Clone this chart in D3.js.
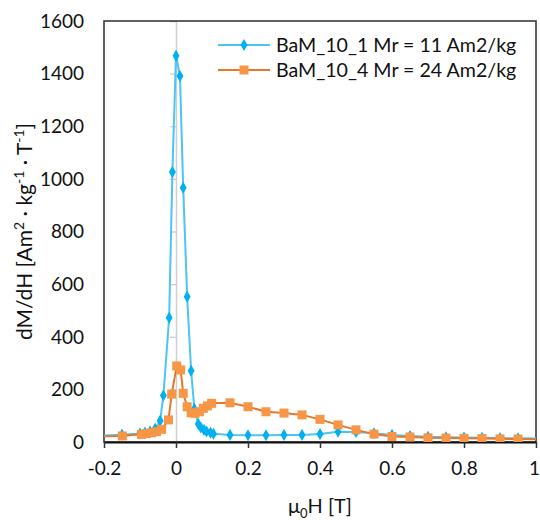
<!DOCTYPE html>
<html>
<head>
<meta charset="utf-8">
<script src="https://cdn.jsdelivr.net/npm/d3@7"></script>
<style>
  body { margin: 0; background: white; }
  svg { display: block; }
</style>
</head>
<body>
<svg id="svg"></svg>
<script>
"use strict";
var width = 540;
var height = 520;

// series 1: BaM_10_1
var xBlue = [-0.25, -0.15, -0.1, -0.086, -0.072, -0.058, -0.044, -0.035, -0.019, -0.01, 0, 0.011, 0.02, 0.031, 0.042, 0.051, 0.062, 0.069, 0.078, 0.085, 0.096, 0.104, 0.15, 0.2, 0.25, 0.3, 0.35, 0.4, 0.45, 0.5, 0.55, 0.6, 0.65, 0.7, 0.75, 0.8, 0.85, 0.9, 0.95, 1.05];
var yBlue = [22, 28, 32, 36, 40, 50, 81, 177, 472, 1026, 1468, 1391, 966, 552, 271, 126, 68, 55, 46, 40, 35, 31, 27, 26, 26, 27, 27, 30, 39, 38, 33, 27, 23, 20, 18, 17, 16, 15, 14, 12];
// series 2: BaM_10_4
var xOrange = [-0.25, -0.149, -0.096, -0.082, -0.068, -0.054, -0.04, -0.021, -0.012, 0.002, 0.013, 0.02, 0.031, 0.042, 0.053, 0.065, 0.076, 0.087, 0.099, 0.15, 0.2, 0.25, 0.3, 0.35, 0.4, 0.45, 0.5, 0.55, 0.6, 0.65, 0.7, 0.75, 0.8, 0.85, 0.9, 0.95, 1.05];
var yOrange = [20, 23, 29, 32, 35, 39, 48, 84, 182, 289, 274, 185, 134, 111, 109, 115, 128, 137, 147, 149, 134, 115, 110, 103, 86, 65, 46, 30, 21, 19, 16, 15, 14, 13, 12, 11, 10];

var seriesNames = ['BaM_10_1 Mr = 11 Am2/kg', 'BaM_10_4 Mr = 24 Am2/kg'];
var xTicks = [-0.2, 0, 0.2, 0.4, 0.6, 0.8, 1];
var yTicks = [0, 200, 400, 600, 800, 1000, 1200, 1400, 1600];

var margin = { left: 104, right: 4, top: 21, bottom: 78 };
var plotW = width - margin.left - margin.right;
var plotH = height - margin.top - margin.bottom;
var font = "Lato, 'Open Sans', sans-serif";

var x = d3.scaleLinear().domain([-0.2, 1]).range([margin.left, margin.left + plotW]);
var y = d3.scaleLinear().domain([0, 1600]).range([margin.top + plotH, margin.top]);

var svg = d3.select('#svg')
    .attr('width', width)
    .attr('height', height)
    .style('font-family', font);

svg.append('rect').attr('width', width).attr('height', height).attr('fill', 'white');

svg.append('clipPath').attr('id', 'plot')
    .append('rect')
    .attr('x', margin.left).attr('y', margin.top)
    .attr('width', plotW).attr('height', plotH);

// y axis sits at x = 0
var yAxis = svg.append('g')
    .attr('transform', 'translate(' + x(0) + ',0)')
    .call(d3.axisLeft(y).tickValues(yTicks).tickSize(6).tickFormat(''));
yAxis.select('.domain').attr('stroke', '#d0d0d0').attr('stroke-width', 1.5);
yAxis.selectAll('.tick line').attr('stroke', '#c8c8c8').attr('stroke-width', 1.2);

// y tick labels at the left edge
svg.selectAll('text.ylab')
    .data(yTicks)
    .enter()
    .append('text')
    .attr('class', 'ylab')
    .attr('x', 84)
    .attr('y', function (d) { return y(d); })
    .attr('dy', '0.36em')
    .attr('text-anchor', 'end')
    .style('font-size', '19px')
    .attr('fill', '#111')
    .text(function (d) { return d; });

// frame
svg.append('rect')
    .attr('x', margin.left).attr('y', margin.top)
    .attr('width', plotW).attr('height', plotH)
    .attr('fill', 'none')
    .attr('stroke', '#3a3a3a')
    .attr('stroke-width', 1.6);

// x axis
var xAxis = svg.append('g')
    .attr('transform', 'translate(0,' + (margin.top + plotH) + ')')
    .call(d3.axisBottom(x).tickValues(xTicks).tickSize(6).tickSizeOuter(0).tickPadding(14)
        .tickFormat(function (d) { return d; }));
xAxis.select('.domain').attr('stroke', '#111').attr('stroke-width', 2);
xAxis.selectAll('.tick line').attr('stroke', '#333').attr('stroke-width', 1.5);
xAxis.selectAll('.tick text')
    .style('font-size', '19px')
    .style('font-family', font)
    .attr('fill', '#111')
    .attr('dx', function (d) { return d == 1 ? -2 : 0; });

var line = d3.line()
    .x(function (d) { return x(d[0]); })
    .y(function (d) { return y(d[1]); });

var blue = d3.zip(xBlue, yBlue);
var orange = d3.zip(xOrange, yOrange);
var diamond = d3.symbol().type(d3.symbolDiamond).size(42);

var plot = svg.append('g').attr('clip-path', 'url(#plot)');

// series 1
plot.append('path')
    .datum(blue)
    .attr('d', line)
    .attr('fill', 'none')
    .attr('stroke', '#4cc4f4')
    .attr('stroke-width', 2);
plot.selectAll('path.dia')
    .data(blue)
    .enter()
    .append('path')
    .attr('class', 'dia')
    .attr('d', diamond)
    .attr('transform', function (d) { return 'translate(' + x(d[0]) + ',' + y(d[1]) + ')'; })
    .attr('fill', '#00b0f0');

// series 2
plot.append('path')
    .datum(orange)
    .attr('d', line)
    .attr('fill', 'none')
    .attr('stroke', '#e8762d')
    .attr('stroke-width', 2);
plot.selectAll('rect.sq')
    .data(orange)
    .enter()
    .append('rect')
    .attr('class', 'sq')
    .attr('x', function (d) { return x(d[0]) - 4.5; })
    .attr('y', function (d) { return y(d[1]) - 4.5; })
    .attr('width', 9)
    .attr('height', 9)
    .attr('fill', '#f79646');

// legend
var legend = svg.append('g').attr('transform', 'translate(218,45)');
var legendRows = [
    { name: seriesNames[0], line: '#4cc4f4', fill: '#00b0f0', shape: 'diamond' },
    { name: seriesNames[1], line: '#e8762d', fill: '#f79646', shape: 'square' }
];
var row = legend.selectAll('g')
    .data(legendRows)
    .enter()
    .append('g')
    .attr('transform', function (d, i) { return 'translate(0,' + (i * 25) + ')'; });
row.append('line')
    .attr('x1', 0).attr('x2', 52)
    .attr('stroke', function (d) { return d.line; })
    .attr('stroke-width', 2);
row.append('path')
    .attr('d', function (d) {
        return d.shape == 'diamond' ? diamond() : d3.symbol().type(d3.symbolSquare).size(81)();
    })
    .attr('transform', 'translate(26,0)')
    .attr('fill', function (d) { return d.fill; });
row.append('text')
    .attr('x', 58)
    .attr('dy', '0.36em')
    .style('font-size', '19.6px')
    .attr('fill', '#111')
    .text(function (d) { return d.name; });

// axis titles
var xt = svg.append('text')
    .attr('x', margin.left + plotW / 2)
    .attr('y', 513)
    .attr('text-anchor', 'middle')
    .style('font-size', '20px')
    .attr('fill', '#111');
xt.append('tspan').text('\u03bc');
xt.append('tspan').attr('dy', 5).style('font-size', '13px').text('0');
xt.append('tspan').attr('dy', -5).text('H [T]');

var yt = svg.append('text')
    .attr('transform', 'translate(32,' + (margin.top + plotH / 2) + ') rotate(-90)')
    .attr('text-anchor', 'middle')
    .style('font-size', '21px')
    .attr('fill', '#111');
yt.append('tspan').text('dM/dH [Am');
yt.append('tspan').attr('dy', -8).style('font-size', '14px').text('2');
yt.append('tspan').attr('dy', 8).text(' \u00b7 kg');
yt.append('tspan').attr('dy', -8).style('font-size', '14px').text('-1');
yt.append('tspan').attr('dy', 8).text(' \u00b7 T');
yt.append('tspan').attr('dy', -8).style('font-size', '14px').text('-1');
yt.append('tspan').attr('dy', 8).text(']');
</script>
</body>
</html>
